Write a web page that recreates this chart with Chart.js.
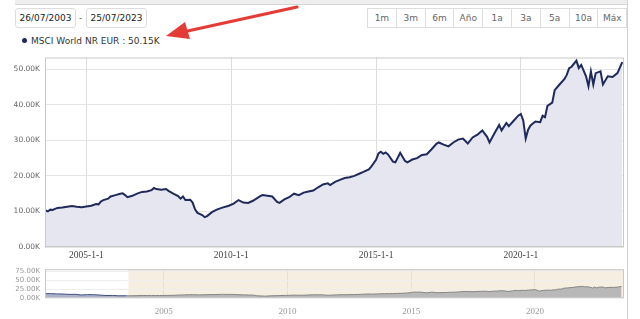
<!DOCTYPE html>
<html>
<head>
<meta charset="utf-8">
<script src="https://cdn.jsdelivr.net/npm/chart.js@4.4.0/dist/chart.umd.min.js"></script>
<style>
  body { margin: 0; background: #fff; font-family: "DejaVu Sans", sans-serif; }
  #wrap { position: relative; width: 640px; height: 319px; overflow: hidden; }
  .topbar { position: absolute; left: 15px; top: 0; width: 612px; height: 4px; background: #eee; border-bottom: 1px solid #d6d6d6; }
  .rightline { position: absolute; left: 627px; top: 0; width: 1px; height: 319px; background: #d0d0d0; }
  .datebox { position: absolute; top: 8px; height: 18px; width: 59px; border: 1px solid #ddd; border-radius: 3px;
    font-size: 9px; line-height: 18px; text-align: center; color: #222; }
  .dash { position: absolute; left: 79px; top: 8px; font-size: 9px; line-height: 20px; color: #555; }
  .btns { position: absolute; left: 367px; top: 8px; display: flex; }
  .btns div { width: 27.8px; height: 18px; border: 1px solid #ddd; border-right: none; font-size: 9px; line-height: 18px;
    text-align: center; color: #666; }
  .btns div:last-child { border-right: 1px solid #ddd; }
  .legend { position: absolute; left: 22px; top: 35px; font-size: 9px; line-height: 12px; color: #333; }
  .legend span { display: inline-block; width: 5px; height: 5px; border-radius: 50%; background: #1e2a5a; margin-right: 4px; vertical-align: 1px; }
  canvas { position: absolute; left: 0; }
  svg { position: absolute; left: 0; top: 0; }
</style>
</head>
<body>
<div id="wrap">
  <div class="topbar"></div>
  <div class="rightline"></div>
  <div class="datebox" style="left:15px">26/07/2003</div>
  <div class="dash">-</div>
  <div class="datebox" style="left:86px">25/07/2023</div>
  <div class="btns">
    <div>1m</div><div>3m</div><div>6m</div><div>Año</div><div>1a</div><div>3a</div><div>5a</div><div>10a</div><div>Máx</div>
  </div>
  <div class="legend"><span></span>MSCI World NR EUR : 50.15K</div>
  <canvas id="mainChart" width="640" height="216" style="top:48px"></canvas>
  <canvas id="navChart" width="640" height="59" style="top:260px"></canvas>
  <svg width="640" height="60">
    <line x1="297" y1="7" x2="183" y2="32" stroke="#e53b35" stroke-width="3.2" stroke-linecap="round"/>
    <polygon points="166,36 185,22 190,39" fill="#e53b35"/>
  </svg>
</div>
<script>
// values in thousands of EUR
const months = [
  '2003-07','2003-08','2003-09','2003-10','2003-11','2003-12','2004-01','2004-03','2004-05','2004-07','2004-09','2004-11',
  '2005-01','2005-03','2005-05','2005-06','2005-07','2005-08','2005-10','2005-11','2006-01','2006-03','2006-04','2006-05',
  '2006-06','2006-08','2006-10','2006-12','2007-02','2007-04','2007-05','2007-06','2007-08','2007-10','2007-11','2008-01',
  '2008-03','2008-04','2008-05','2008-06','2008-08','2008-09','2008-10','2008-11','2009-01','2009-02','2009-03','2009-05',
  '2009-07','2009-09','2009-12','2010-02','2010-04','2010-06','2010-08','2010-10','2011-01','2011-02','2011-04','2011-06',
  '2011-08','2011-09','2011-11','2012-01','2012-03','2012-05','2012-07','2012-09','2012-11','2013-01','2013-03','2013-05',
  '2013-06','2013-08','2013-10','2013-12','2014-02','2014-04','2014-06','2014-08','2014-10','2014-11','2015-01','2015-02',
  '2015-03','2015-04','2015-05','2015-06','2015-08','2015-09','2015-11','2016-01','2016-02','2016-04','2016-06','2016-08',
  '2016-10','2016-12','2017-02','2017-03','2017-05','2017-07','2017-09','2017-11','2018-01','2018-03','2018-05','2018-07',
  '2018-09','2018-11','2018-12','2019-02','2019-04','2019-05','2019-07','2019-08','2019-10','2019-12','2020-01','2020-02',
  '2020-03','2020-04','2020-05','2020-07','2020-09','2020-10','2020-11','2020-12','2021-02','2021-03','2021-05','2021-07',
  '2021-08','2021-09','2021-10','2021-12','2022-01','2022-02','2022-04','2022-05','2022-06','2022-07','2022-08','2022-10',
  '2022-11','2023-01','2023-03','2023-05','2023-07'
]
const values = [
  10.0, 10.3, 10.0, 10.5, 10.4, 10.7, 11.0, 11.1, 11.3, 11.5, 11.3, 11.2,
  11.4, 11.6, 12.1, 12.0, 12.8, 13.2, 13.6, 14.2, 14.6, 15.0, 15.1, 14.6,
  14.0, 14.4, 15.0, 15.5, 15.6, 16.0, 16.6, 16.3, 16.1, 16.3, 15.8, 15.0,
  14.3, 13.6, 14.2, 13.2, 13.3, 12.5, 10.6, 9.6, 9.0, 8.4, 8.7, 9.8,
  10.5, 11.0, 11.6, 12.2, 13.2, 12.5, 12.4, 13.0, 14.3, 14.6, 14.4, 14.2,
  12.7, 12.4, 13.4, 14.0, 15.0, 14.6, 15.3, 15.6, 15.9, 16.8, 17.6, 17.9,
  17.4, 18.3, 18.9, 19.4, 19.6, 20.0, 20.6, 21.2, 21.8, 22.6, 24.5, 26.3,
  26.8, 26.2, 26.6, 26.0, 24.0, 23.8, 26.5, 24.2, 23.8, 24.6, 25.0, 25.9,
  26.1, 27.5, 29.0, 29.4, 28.8, 28.3, 29.4, 30.2, 30.5, 29.1, 30.8, 31.6,
  32.8, 31.0, 29.4, 31.9, 34.3, 32.8, 34.9, 34.0, 35.5, 37.0, 37.4, 35.5,
  30.5, 33.0, 34.2, 35.3, 35.1, 36.9, 36.5, 39.7, 40.6, 44.1, 45.7, 47.2,
  48.4, 50.3, 50.7, 52.4, 50.3, 51.2, 48.0, 45.2, 49.4, 45.7, 48.9, 49.4,
  45.7, 48.0, 47.8, 48.9, 52.0
]
// navigator history before the selected range
const navMonths = ['2000-03','2000-06','2000-09','2000-12','2001-03','2001-06','2001-09','2001-12','2002-03','2002-06','2002-09','2002-12','2003-03','2003-07']
const navValues = [19.5, 19.8, 18.6, 17.8, 16.4, 16.6, 13.8, 15.2, 15.0, 13.2, 11.2, 11.6, 10.2, 10.0]

const yTicks = [0, 10, 20, 30, 40, 50]
const navYTicks = [0, 25, 50, 75]
const xTicks = [2005, 2010, 2015, 2020]
const rangeStart = 2003.57
const rangeEnd = 2023.56

function toYear(m) {
    const p = m.split('-')
    return Number(p[0]) + (Number(p[1]) - 1) / 12
}
function toPoints(ms, vs) {
    return ms.map((m, i) => ({ x: toYear(m), y: vs[i] }))
}

const frame = {
    id: 'frame',
    afterDatasetsDraw(chart) {
        const a = chart.chartArea
        const ctx = chart.ctx
        ctx.save()
        ctx.strokeStyle = '#c8c8c8'
        ctx.lineWidth = 1
        ctx.strokeRect(a.left + 0.5, a.top + 0.5, a.right - a.left - 1, a.bottom - a.top - 1)
        ctx.restore()
    }
}

const mainCtx = document.getElementById('mainChart').getContext('2d')
const mainChart = new Chart(mainCtx, {
    type: 'line',
    data: {
        datasets: [{
            data: toPoints(months, values),
            borderColor: '#1e2a5a',
            borderWidth: 2,
            backgroundColor: '#e5e6ef',
            fill: 'origin',
            pointRadius: 0,
            tension: 0,
        }]
    },
    options: {
        responsive: false,
        animation: false,
        layout: { padding: { top: 6, right: 16, left: 0, bottom: 0 } },
        plugins: { legend: { display: false }, tooltip: { enabled: false } },
        scales: {
            x: {
                type: 'linear',
                min: rangeStart,
                max: rangeEnd,
                afterBuildTicks: (s) => { s.ticks = xTicks.map(v => ({ value: v })) },
                afterFit: (s) => { s.height = 17 },
                grid: { color: '#dcdcdc', drawTicks: false },
                border: { display: false },
                ticks: {
                    padding: 3,
                    color: '#444',
                    font: { family: 'Liberation Serif', size: 9.5 },
                    maxRotation: 0,
                    autoSkip: false,
                    callback: (v) => v + '-1-1'
                }
            },
            y: {
                min: 0,
                max: 53.3,
                afterBuildTicks: (s) => { s.ticks = yTicks.map(v => ({ value: v })) },
                afterFit: (s) => { s.width = 45 },
                grid: { color: '#e4e4e4', drawTicks: false },
                border: { display: false },
                ticks: {
                    padding: 5,
                    color: '#666',
                    font: { family: 'DejaVu Sans', size: 7.5 },
                    autoSkip: false,
                    callback: (v) => v.toFixed(2) + 'K'
                }
            }
        }
    },
    plugins: [frame]
})

const selection = {
    id: 'selection',
    beforeDraw(chart) {
        const a = chart.chartArea
        const x0 = chart.scales.x.getPixelForValue(rangeStart)
        const ctx = chart.ctx
        ctx.save()
        ctx.fillStyle = '#f6efe1'
        ctx.fillRect(x0, a.top, a.right - x0, a.bottom - a.top)
        ctx.restore()
    }
}

const navCtx = document.getElementById('navChart').getContext('2d')
const navChart = new Chart(navCtx, {
    type: 'line',
    data: {
        datasets: [{
            data: toPoints(navMonths, navValues),
            yAxisID: 'yd',
            borderColor: '#42507e',
            borderWidth: 1,
            backgroundColor: '#aab2cc',
            fill: 'origin',
            pointRadius: 0,
            tension: 0,
        }, {
            data: toPoints(months, values),
            yAxisID: 'yd',
            borderColor: '#858585',
            borderWidth: 1,
            backgroundColor: '#b8b8b8',
            fill: 'origin',
            pointRadius: 0,
            tension: 0,
        }]
    },
    options: {
        responsive: false,
        animation: false,
        layout: { padding: { top: 6, right: 16, left: 0, bottom: 0 } },
        plugins: { legend: { display: false }, tooltip: { enabled: false } },
        scales: {
            x: {
                type: 'linear',
                min: 2000.2,
                max: 2023.6,
                afterBuildTicks: (s) => { s.ticks = xTicks.map(v => ({ value: v })) },
                afterFit: (s) => { s.height = 21 },
                grid: { color: '#e6e0d4', drawTicks: false },
                border: { display: false },
                ticks: {
                    padding: 8,
                    color: '#999',
                    font: { family: 'Liberation Serif', size: 9 },
                    maxRotation: 0,
                    autoSkip: false,
                    callback: (v) => String(v)
                }
            },
            y: {
                min: 0,
                max: 80,
                afterBuildTicks: (s) => { s.ticks = navYTicks.map(v => ({ value: v })) },
                afterFit: (s) => { s.width = 45 },
                grid: { color: '#eeeeee', drawTicks: false },
                border: { display: false },
                ticks: {
                    padding: 5,
                    color: '#999',
                    font: { family: 'DejaVu Sans', size: 7 },
                    autoSkip: false,
                    callback: (v) => v.toFixed(2) + 'K'
                }
            },
            yd: {
                display: false,
                min: 0,
                max: 130
            }
        }
    },
    plugins: [selection, frame]
})
</script>
</body>
</html>
